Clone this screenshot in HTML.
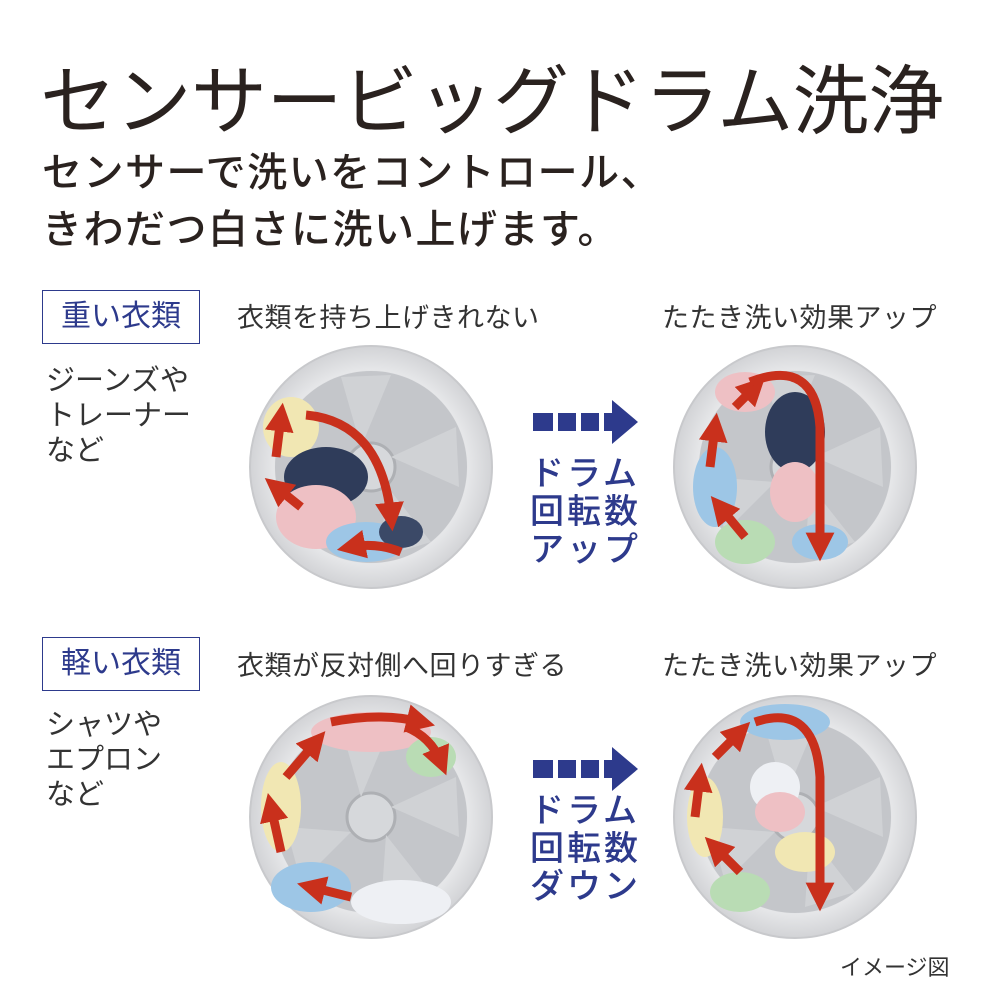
<!DOCTYPE html>
<html><head><meta charset="utf-8"><style>
html,body{margin:0;padding:0;background:#fff}
body{width:1000px;height:1000px;position:relative;overflow:hidden;font-family:"Liberation Sans","Noto Sans CJK JP",sans-serif}
.t{position:absolute;white-space:nowrap}
.title{left:40px;top:40px;font-size:76px;color:#2a221f;font-family:"Liberation Sans","Noto Sans CJK JP",sans-serif;font-weight:400;letter-spacing:-0.5px}
.sub{left:42px;font-size:40px;color:#2a221f;font-weight:500;letter-spacing:1.5px}
.box{position:absolute;border:1.5px solid #2d3a8c;color:#2d3a8c;font-size:30px;text-align:center;line-height:52px;width:156px;height:52px}
.lab{font-size:29px;color:#333;line-height:35px;left:46px}
.cap{font-size:27px;color:#333;letter-spacing:0.5px}
.nav{font-size:34px;color:#2d3a8c;font-weight:500;line-height:38px;left:530px;letter-spacing:3px}
</style></head><body>
<div class="t title">センサービッグドラム洗浄</div>
<div class="t sub" style="top:140px">センサーで洗いをコントロール、</div>
<div class="t sub" style="top:197px">きわだつ白さに洗い上げます。</div>

<div class="box" style="left:42px;top:290px">重い衣類</div>
<div class="t lab" style="top:364px">ジーンズや<br>トレーナー<br>など</div>
<div class="t cap" style="left:237px;top:296px">衣類を持ち上げきれない</div>
<div class="t cap" style="left:662px;top:296px">たたき洗い効果アップ</div>
<div class="t nav" style="top:455px">ドラム<br>回転数<br>アップ</div>

<div class="box" style="left:42px;top:637px">軽い衣類</div>
<div class="t lab" style="top:708px">シャツや<br>エプロン<br>など</div>
<div class="t cap" style="left:237px;top:644px">衣類が反対側へ回りすぎる</div>
<div class="t cap" style="left:662px;top:644px">たたき洗い効果アップ</div>
<div class="t nav" style="top:792px">ドラム<br>回転数<br>ダウン</div>
<div class="t" style="left:840px;top:950px;font-size:22px;color:#333">イメージ図</div>

<svg width="1000" height="1000" style="position:absolute;left:0;top:0">
<defs>
<radialGradient id="dr" cx="50%" cy="50%" r="50%">
<stop offset="0" stop-color="#d8d9dc"/><stop offset="0.75" stop-color="#bfc1c5"/><stop offset="0.8" stop-color="#e6e7e9"/><stop offset="1" stop-color="#d2d3d6"/></radialGradient>
<marker id="ah" viewBox="0 0 10 10" refX="5" refY="5" markerWidth="3.2" markerHeight="3.2" orient="auto"><path d="M0,0 L10,5 L0,10z" fill="#c9301c"/></marker>
<g id="drum">
<circle r="121" fill="url(#dr)" stroke="#c8c9cc" stroke-width="2"/>
<circle r="96" fill="#c4c6ca"/>
<circle r="24" fill="#d6d8db" stroke="#aeb0b4" stroke-width="3"/>
<g fill="#d0d2d5"><path d="M-10,-20 L-30,-90 L20,-92 Z"/><path d="M20,-10 L85,-40 L88,20 Z"/><path d="M15,18 L60,75 L10,90 Z"/><path d="M-20,15 L-70,65 L-85,10 Z"/></g>
</g>
</defs>
<g fill="#2d3a8c">
<rect x="533" y="413" width="20" height="18"/><rect x="558" y="413" width="18" height="18"/><rect x="581" y="413" width="18" height="18"/><path d="M604,413 H612 V400 L638,422 L612,444 V431 H604Z"/>
<rect x="533" y="760" width="20" height="18"/><rect x="558" y="760" width="18" height="18"/><rect x="581" y="760" width="18" height="18"/><path d="M604,760 H612 V747 L638,769 L612,791 V778 H604Z"/>
</g>
<g transform="translate(371,467)"><use href="#drum"/>
<ellipse cx="-80" cy="-40" rx="28" ry="30" fill="#f1e7b3"/>
<ellipse cx="-45" cy="10" rx="42" ry="30" fill="#2f3c5a"/>
<ellipse cx="-55" cy="50" rx="40" ry="32" fill="#eec0c4"/>
<ellipse cx="-5" cy="75" rx="40" ry="20" fill="#9dc6e6"/>
<ellipse cx="30" cy="65" rx="22" ry="16" fill="#3b4967"/>
<g fill="none" stroke="#c9301c" stroke-width="9" marker-end="url(#ah)">
<path d="M-70,85 Q-45,75 -20,80" transform="scale(-1,1) translate(40,0)"/>
<path d="M-70,40 L-95,20"/><path d="M-95,-10 L-90,-50"/>
<path d="M-65,-52 Q10,-45 20,50"/>
</g></g>
<g transform="translate(795,467)"><use href="#drum"/>
<ellipse cx="-50" cy="-75" rx="30" ry="20" fill="#eec0c4"/>
<ellipse cx="0" cy="-35" rx="30" ry="40" fill="#2f3c5a"/>
<ellipse cx="-80" cy="20" rx="22" ry="40" fill="#9dc6e6"/>
<ellipse cx="0" cy="25" rx="25" ry="30" fill="#eec0c4"/>
<ellipse cx="-50" cy="75" rx="30" ry="22" fill="#b9dcb4"/>
<ellipse cx="25" cy="75" rx="28" ry="18" fill="#9dc6e6"/>
<g fill="none" stroke="#c9301c" stroke-width="9" marker-end="url(#ah)">
<path d="M-50,70 L-75,40"/><path d="M-85,0 L-80,-40"/><path d="M-60,-60 L-40,-80"/>
<path d="M-45,-85 Q20,-110 25,-40 L25,80"/>
</g></g>
<g transform="translate(371,817)"><use href="#drum"/>
<ellipse cx="0" cy="-85" rx="60" ry="20" fill="#eec0c4"/>
<ellipse cx="60" cy="-60" rx="25" ry="20" fill="#b9dcb4"/>
<ellipse cx="-90" cy="-10" rx="20" ry="45" fill="#f1e7b3"/>
<ellipse cx="-60" cy="70" rx="40" ry="25" fill="#9dc6e6"/>
<ellipse cx="30" cy="85" rx="50" ry="22" fill="#eef0f4"/>
<g fill="none" stroke="#c9301c" stroke-width="9" marker-end="url(#ah)">
<path d="M-20,80 L-60,70"/><path d="M-90,35 L-100,-10"/><path d="M-85,-40 L-55,-75"/>
<path d="M-40,-95 Q10,-105 50,-95"/><path d="M35,-90 Q60,-80 70,-55"/>
</g></g>
<g transform="translate(795,817)"><use href="#drum"/>
<ellipse cx="-10" cy="-95" rx="45" ry="18" fill="#9dc6e6"/>
<ellipse cx="-20" cy="-30" rx="25" ry="25" fill="#eef0f4"/>
<ellipse cx="-90" cy="0" rx="18" ry="40" fill="#f1e7b3"/>
<ellipse cx="-15" cy="-5" rx="25" ry="20" fill="#eec0c4"/>
<ellipse cx="10" cy="35" rx="30" ry="20" fill="#f1e7b3"/>
<ellipse cx="-55" cy="75" rx="30" ry="20" fill="#b9dcb4"/>
<g fill="none" stroke="#c9301c" stroke-width="9" marker-end="url(#ah)">
<path d="M-55,55 L-80,30"/><path d="M-100,0 L-95,-40"/><path d="M-80,-60 L-55,-85"/>
<path d="M-40,-95 Q20,-115 25,-40 L25,80"/>
</g></g>
</svg>
</body></html>
